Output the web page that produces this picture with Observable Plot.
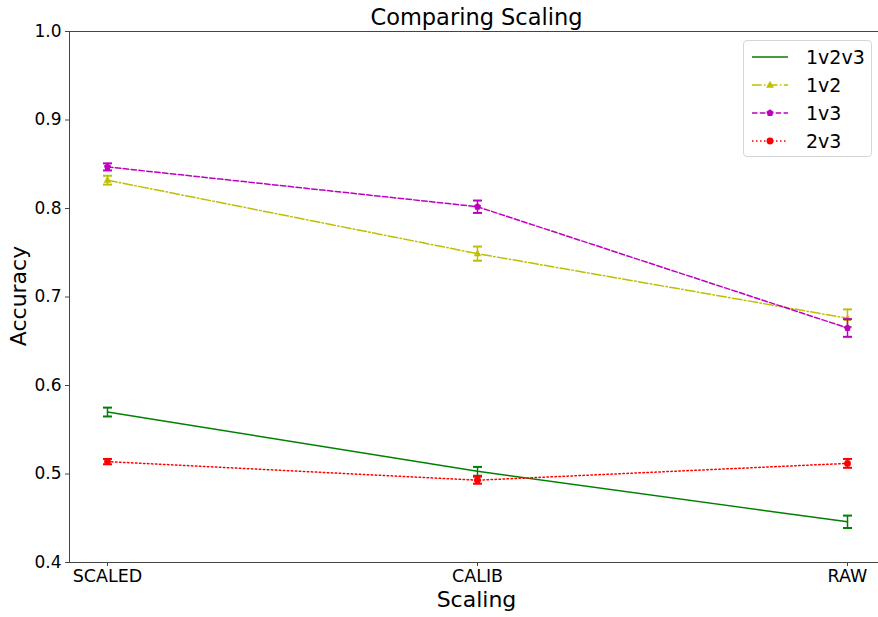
<!DOCTYPE html>
<html>
<head>
<meta charset="utf-8">
<script src="https://cdn.jsdelivr.net/npm/d3@7"></script>
<script src="https://cdn.jsdelivr.net/npm/@observablehq/plot@0.6"></script>
<style>
  html, body { margin: 0; padding: 0; background: #fff; overflow: hidden; width: 878px; height: 617px; }
  #wrap { position: relative; width: 884px; height: 617px; font-family: "DejaVu Sans", sans-serif; }
  #title { position: absolute; left: 69px; width: 815px; top: 3px; text-align: center; font-size: 22.5px; line-height: 28px; color: #000; }
  #xlabel { position: absolute; left: 69px; width: 815px; top: 589px; text-align: center; font-size: 22px; line-height: 22px; color: #000; }
  #ylabel { position: absolute; left: 18px; top: 296px; transform: translate(-50%, -50%) rotate(-90deg); font-size: 22px; color: #000; white-space: nowrap; }
  #legend { position: absolute; left: 743px; top: 40px; width: 129px; height: 117px; box-sizing: border-box; border: 1px solid #d6d6d6; border-radius: 4px; background: rgba(255,255,255,0.8); }
  .lg { position: absolute; left: 6px; height: 28px; display: flex; align-items: center; font-size: 19px; color: #000; }
  .lg svg { margin-right: 16px; }
</style>
</head>
<body>
<div id="wrap">
  <div id="chart"></div>
  <div id="title">Comparing Scaling</div>
  <div id="xlabel">Scaling</div>
  <div id="ylabel">Accuracy</div>
  <div id="legend"></div>
</div>
<script>
const categories = ["SCALED", "CALIB", "RAW"];
const seriesNames = ["1v2v3", "1v2", "1v3", "2v3"];
const acc_1v2v3 = [0.570, 0.503, 0.446];
const err_1v2v3 = [0.005, 0.005, 0.007];
const acc_1v2 = [0.832, 0.749, 0.676];
const err_1v2 = [0.005, 0.008, 0.010];
const acc_1v3 = [0.847, 0.802, 0.665];
const err_1v3 = [0.004, 0.007, 0.010];
const acc_2v3 = [0.514, 0.493, 0.512];
const err_2v3 = [0.003, 0.004, 0.005];
const yTicks = [0.4, 0.5, 0.6, 0.7, 0.8, 0.9, 1.0];

const styles = {
  "1v2v3": {color: "#008000", dash: null, symbol: null},
  "1v2": {color: "#bfbf00", dash: "9.6,2.4,1.5,2.4", symbol: "triangle"},
  "1v3": {color: "#bf00bf", dash: "5.5,2.4", symbol: "pentagon"},
  "2v3": {color: "#ff0000", dash: "1.5,2.5", symbol: "circle"}
};
const accs = {"1v2v3": acc_1v2v3, "1v2": acc_1v2, "1v3": acc_1v3, "2v3": acc_2v3};
const errs = {"1v2v3": err_1v2v3, "1v2": err_1v2, "1v3": err_1v3, "2v3": err_2v3};

const rows = [];
for (const s of seriesNames) {
  categories.forEach((c, i) => rows.push({series: s, cat: c, acc: accs[s][i], lo: accs[s][i] - errs[s][i], hi: accs[s][i] + errs[s][i]}));
}

const capSymbol = {
  draw(ctx, size) { const r = Math.sqrt(size / Math.PI); ctx.moveTo(-r, 0); ctx.lineTo(r, 0); }
};
const pentagon = {
  draw(ctx, size) {
    const r = Math.sqrt(size / Math.PI) * 1.1;
    for (let k = 0; k < 5; k++) {
      const a = -Math.PI / 2 + k * 2 * Math.PI / 5;
      const px = r * Math.cos(a), py = r * Math.sin(a);
      if (k === 0) ctx.moveTo(px, py); else ctx.lineTo(px, py);
    }
    ctx.closePath();
  }
};
const triangle = {
  draw(ctx, size) {
    const r = Math.sqrt(size / Math.PI) * 1.2;
    ctx.moveTo(0, -r); ctx.lineTo(r * 0.95, r * 0.65); ctx.lineTo(-r * 0.95, r * 0.65); ctx.closePath();
  }
};
const symFor = {triangle: triangle, pentagon: pentagon, circle: "circle"};

const marks = [];
for (const s of seriesNames) {
  const st = styles[s];
  const data = rows.filter(d => d.series === s);
  marks.push(Plot.line(data, {x: "cat", y: "acc", stroke: st.color, strokeWidth: 1.5, strokeDasharray: st.dash || undefined}));
}
for (const s of seriesNames) {
  const st = styles[s];
  const data = rows.filter(d => d.series === s);
  marks.push(Plot.ruleX(data, {x: "cat", y1: "lo", y2: "hi", stroke: st.color, strokeWidth: 1.5}));
  marks.push(Plot.dot(data, {x: "cat", y: "lo", symbol: capSymbol, r: 4.5, stroke: st.color, strokeWidth: 2}));
  marks.push(Plot.dot(data, {x: "cat", y: "hi", symbol: capSymbol, r: 4.5, stroke: st.color, strokeWidth: 2}));
  if (st.symbol) {
    marks.push(Plot.dot(data, {x: "cat", y: "acc", symbol: symFor[st.symbol], r: 3.4, fill: st.color, stroke: "none"}));
  }
}

const chart = Plot.plot({
  width: 884,
  height: 617,
  marginLeft: 69,
  marginRight: 0,
  marginTop: 31,
  marginBottom: 55,
  style: {fontFamily: "DejaVu Sans, sans-serif", fontSize: "17px", color: "#000", background: "#fff"},
  x: {type: "point", domain: categories, padding: 0.1, label: null},
  y: {domain: [0.4, 1.0], label: null},
  marks: [
    Plot.frame({stroke: "#444", strokeWidth: 1}),
    Plot.axisY({ticks: yTicks, tickFormat: d3.format(".1f"), tickSize: 4, tickPadding: 4, fontSize: 17, stroke: "#444", fill: "#000", label: null}),
    Plot.axisX({ticks: categories, tickSize: 4, tickPadding: 3, fontSize: 17.5, stroke: "#444", fill: "#000", label: null}),
    ...marks
  ]
});
document.getElementById("chart").appendChild(chart);

// Legend
const legend = document.getElementById("legend");
seriesNames.forEach((s, i) => {
  const st = styles[s];
  const div = document.createElement("div");
  div.className = "lg";
  div.style.top = (2 + i * 28) + "px";
  const svg = d3.create("svg").attr("width", 40).attr("height", 14);
  svg.append("line").attr("x1", 2).attr("x2", 38).attr("y1", 7).attr("y2", 7)
    .attr("stroke", st.color).attr("stroke-width", 1.5).attr("stroke-dasharray", st.dash);
  if (st.symbol) {
    const sym = symFor[st.symbol] === "circle" ? d3.symbolCircle : symFor[st.symbol];
    svg.append("path").attr("transform", "translate(20,7)").attr("fill", st.color)
      .attr("d", d3.symbol(sym, Math.PI * 12)());
  }
  div.appendChild(svg.node());
  const t = document.createElement("span");
  t.textContent = s;
  div.appendChild(t);
  legend.appendChild(div);
});
</script>
</body>
</html>
